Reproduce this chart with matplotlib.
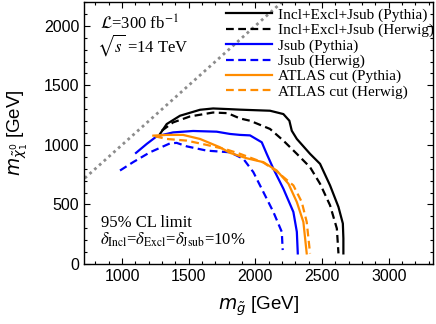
import matplotlib
matplotlib.use("Agg")
import matplotlib.pyplot as plt
from matplotlib.ticker import MultipleLocator

# exclusion contours (m_gluino, m_neutralino) in GeV
incl_py_x = [1285, 1335, 1435, 1585, 1683, 1810, 1885, 2110, 2210, 2255, 2273, 2311, 2410, 2485, 2560, 2623, 2656, 2660, 2660]
incl_py_y = [1092, 1175, 1245, 1295, 1306, 1300, 1296, 1287, 1259, 1203, 1119, 1050, 925, 841, 660, 479, 340, 215, 89]
incl_hw_x = [1298, 1383, 1510, 1683, 1785, 1810, 1885, 1960, 2110, 2210, 2311, 2410, 2485, 2560, 2611, 2623]
incl_hw_y = [1119, 1189, 1239, 1272, 1267, 1258, 1222, 1203, 1134, 1036, 925, 813, 674, 493, 298, 89]
jsub_py_x = [1105, 1185, 1260, 1383, 1533, 1710, 1810, 1885, 1960, 2048, 2085, 2135, 2210, 2285, 2311, 2318]
jsub_py_y = [933, 1008, 1072, 1105, 1117, 1111, 1092, 1084, 1080, 1022, 925, 800, 632, 437, 270, 89]
jsub_hw_x = [985, 1083, 1210, 1360, 1410, 1485, 1635, 1810, 1910, 1985, 2060, 2135, 2198, 2205]
jsub_hw_y = [785, 855, 938, 1013, 1017, 988, 952, 938, 883, 771, 604, 437, 270, 117]
atlas_py_x = [1235, 1335, 1458, 1585, 1735, 1810, 1935, 2060, 2160, 2248, 2311, 2360, 2385]
atlas_py_y = [1078, 1084, 1084, 1050, 980, 933, 888, 855, 785, 674, 520, 353, 89]
atlas_hw_x = [1248, 1335, 1485, 1635, 1785, 1885, 2060, 2160, 2285, 2348, 2385, 2410]
atlas_hw_y = [1072, 1050, 1036, 1000, 961, 925, 852, 777, 660, 520, 353, 89]

diag = [0, 3500]

xticks = [1000, 1500, 2000, 2500, 3000]
yticks = [0, 500, 1000, 1500, 2000]

plt.rcParams["font.family"] = ["Liberation Sans", "DejaVu Sans"]

fig = plt.figure(figsize=(4.36, 3.24), dpi=100)
ax = fig.add_axes([84 / 436, 60 / 324, 349 / 436, 262 / 324])

ax.plot(diag, diag, color="#8c8c8c", lw=2.0, linestyle=(0, (1, 1.3)))

orange = "#ff8c00"
ax.plot(incl_py_x, incl_py_y, color="black", lw=1.6, label="Incl+Excl+Jsub (Pythia)")
ax.plot(incl_hw_x, incl_hw_y, color="black", lw=1.6, ls=(0, (3.5, 2)), label="Incl+Excl+Jsub (Herwig)")
ax.plot(jsub_py_x, jsub_py_y, color="#0000ff", lw=1.6, label="Jsub (Pythia)")
ax.plot(jsub_hw_x, jsub_hw_y, color="#0000ff", lw=1.6, ls=(0, (3.5, 2)), label="Jsub (Herwig)")
ax.plot(atlas_py_x, atlas_py_y, color=orange, lw=1.6, label="ATLAS cut (Pythia)")
ax.plot(atlas_hw_x, atlas_hw_y, color=orange, lw=1.6, ls=(0, (3.5, 2)), label="ATLAS cut (Herwig)")

ax.set_xlim(715, 3332)
ax.set_ylim(0, 2200)
ax.set_xticks(xticks)
ax.set_yticks(yticks)
ax.xaxis.set_minor_locator(MultipleLocator(100))
ax.yaxis.set_minor_locator(MultipleLocator(100))
ax.tick_params(which="both", direction="in", top=True, right=True, labelsize=11.5, width=0.8)
ax.tick_params(which="major", length=4)
ax.tick_params(which="minor", length=2)
for s in ax.spines.values():
    s.set_linewidth(1.0)

ax.set_xlabel(r"$m_{\tilde{g}}$ [GeV]", fontsize=13.5, labelpad=8)
ax.set_ylabel(r"$m_{\tilde{\chi}_1^0}$ [GeV]", fontsize=13.5, labelpad=10)

leg = ax.legend(loc="upper left", bbox_to_anchor=(0.407, 0.977), frameon=False,
                prop={"family": "Liberation Serif", "size": 11},
                handlelength=3.0, handletextpad=0.4, labelspacing=0.1,
                borderpad=0.0, borderaxespad=0.0)

serif = dict(family="Liberation Serif", math_fontfamily="stix", fontsize=12, transform=ax.transAxes)
ax.text(0.045, 0.9, r"$\mathcal{L}$=300 fb$^{-1}$", **serif)
ax.text(0.038, 0.812, r"$\sqrt{s}$ =14 TeV", **serif)
ax.text(0.05, 0.143, "95% CL limit", **serif)
ax.text(0.045, 0.075, r"$\delta_{\rm Incl}$=$\delta_{\rm Excl}$=$\delta_{\rm Jsub}$=10%", **serif)

fig.savefig("out.png", dpi=100)
